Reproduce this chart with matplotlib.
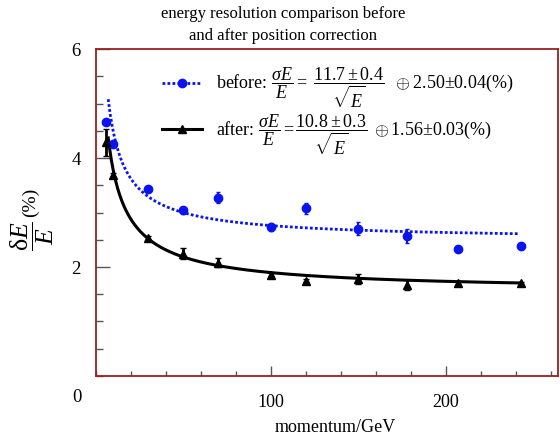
import matplotlib
matplotlib.use('Agg')
import matplotlib.pyplot as plt
import numpy as np
from matplotlib.lines import Line2D
from matplotlib.ticker import MultipleLocator

plt.rcParams['font.family'] = ['Liberation Serif', 'DejaVu Serif']
plt.rcParams['mathtext.fontset'] = 'custom'
plt.rcParams['mathtext.rm'] = 'Liberation Serif'
plt.rcParams['mathtext.it'] = 'Liberation Serif:italic'
plt.rcParams['mathtext.bf'] = 'Liberation Serif:bold'

# measured points (momentum in GeV, resolution in %)
momentum = [6, 10, 30, 50, 70, 100, 120, 150, 178, 207, 243]
res_before = [4.67, 4.25, 3.43, 3.04, 3.27, 2.73, 3.08, 2.70, 2.57, 2.33, 2.38]
err_before = [0.05, 0.05, 0.05, 0.07, 0.10, 0.07, 0.10, 0.12, 0.13, 0.05, 0.05]
res_after = [4.29, 3.69, 2.53, 2.24, 2.08, 1.86, 1.75, 1.78, 1.67, 1.70, 1.70]
err_after = [0.25, 0.03, 0.03, 0.10, 0.08, 0.03, 0.03, 0.10, 0.10, 0.03, 0.03]

# fit results: stochastic term, constant term
fit_before = (11.7, 2.50)
fit_after = (10.8, 1.56)
fit_range = (7, 242)

BLUE = '#0a14f0'
SPINE = '#9a2020'

fig = plt.figure(figsize=(5.6, 4.38), dpi=100)
ax = fig.add_axes([0.1714, 0.1416, 0.8246, 0.7464])

e = np.linspace(fit_range[0], fit_range[1], 400)
ax.plot(e, np.hypot(fit_before[0] / np.sqrt(e), fit_before[1]),
        color=BLUE, ls=(0, (1, 0.8)), lw=2.0)
ax.plot(e, np.hypot(fit_after[0] / np.sqrt(e), fit_after[1]),
        color='black', ls='-', lw=2.2)

ax.errorbar(momentum, res_before, yerr=err_before, fmt='o', color=BLUE,
            ms=6, elinewidth=1.5, capsize=1.5, zorder=3)
ax.errorbar(momentum, res_after, yerr=err_after, fmt='^', color='black',
            ms=6, elinewidth=2, capsize=2, zorder=3)

ax.set_xlim(0, 264)
ax.set_ylim(0, 6)

ax.set_xticks([100, 200])
ax.xaxis.set_minor_locator(MultipleLocator(20))
ax.set_yticks([2, 4, 6])
ax.yaxis.set_minor_locator(MultipleLocator(0.5))
ax.tick_params(axis='x', which='major', direction='in', length=7, width=1,
               color='#555555', labelsize=13, pad=13)
ax.tick_params(axis='x', which='minor', direction='in', length=3.5, width=1,
               color='#555555')
ax.tick_params(axis='y', which='major', direction='in', length=10, width=1,
               color='#555555', labelsize=13.5, pad=11)
ax.tick_params(axis='y', which='minor', direction='in', length=5, width=1,
               color='#555555')
for sp in ax.spines.values():
    sp.set_color(SPINE)
    sp.set_linewidth(1.3)

ax.text(-0.041, -0.067, '0', transform=ax.transAxes, ha='center',
        va='center', fontsize=13.5)

fig.text(335 / 560, 1 - 427 / 438, 'momentum/GeV', ha='center', va='center',
         fontsize=13)
# y label: big fraction with the unit above it
fig.text(32 / 560, 1 - 236 / 438, r'$\dfrac{\mathrm{\delta} E}{E}$', ha='center',
         va='center', rotation=90, fontsize=18.5)
fig.text(30 / 560, 1 - 202 / 438, '(%)', ha='center', va='center',
         rotation=90, fontsize=14)
fig.text(283 / 560, 1 - 6 / 438,
         'energy resolution comparison before\nand after position correction',
         ha='center', va='top', fontsize=12, linespacing=1.5)

handles = [
    Line2D([], [], color=BLUE, ls=(0, (1, 0.8)), lw=2.0, marker='o', ms=6),
    Line2D([], [], color='black', ls='-', lw=2.2, marker='^', ms=6),
]
labels = [
    r'before: $\dfrac{\sigma E}{E}=\ \dfrac{11.7\pm0.4}{\sqrt{E}}\ \ \oplus$2.50$\pm$0.04(%)',
    r'after: $\dfrac{\sigma E}{E}=\dfrac{10.8\pm0.3}{\sqrt{E}}\ \oplus$1.56$\pm$0.03(%)',
]
ax.legend(handles, labels, loc='upper left', bbox_to_anchor=(0.108, 1.0),
          frameon=False, fontsize=13, handlelength=2.2, handletextpad=0.8,
          labelspacing=0.1, borderpad=0.4)

fig.savefig('out.png', dpi=100)
